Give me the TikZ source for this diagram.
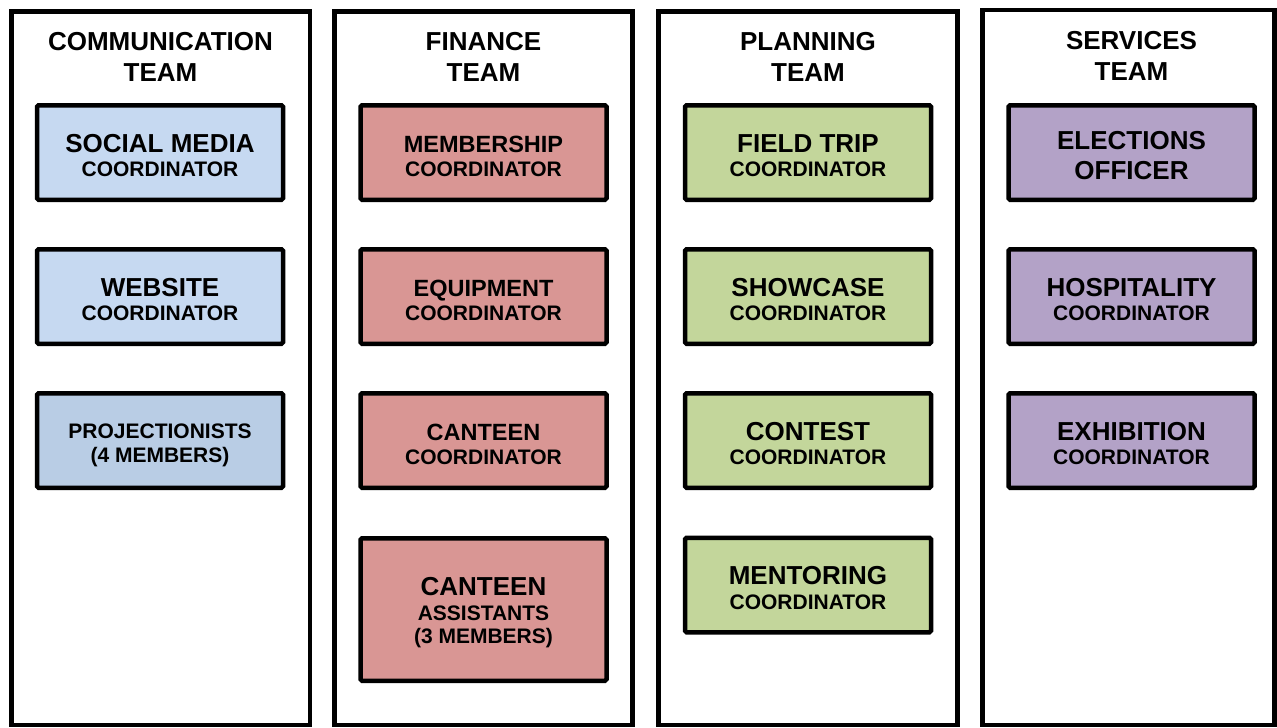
\documentclass[tikz,border=0pt]{standalone}
\usepackage{fontspec}
\setmainfont{Liberation Sans}
\definecolor{commfill}{HTML}{C6D9F1}
\definecolor{projfill}{HTML}{B9CDE5}
\definecolor{finfill}{HTML}{D99694}
\definecolor{planfill}{HTML}{C3D69B}
\definecolor{servfill}{HTML}{B3A2C7}
% line sizes inside the role boxes (the line spacing comes from the box font)
\newcommand{\bigln}[1]{{\fontsize{26}{24.5}\selectfont #1}}
\newcommand{\midln}[1]{{\fontsize{23.5}{24.5}\selectfont #1}}
\newcommand{\smallln}[1]{{\fontsize{21}{24.5}\selectfont #1}}
% invisible strut on the first line to sit the text block a little lower
\newcommand{\tstrut}{\rule{0pt}{24pt}}
\begin{document}
\begin{tikzpicture}[x=1pt,y=-1pt,
  teamframe/.style={draw=black,line width=4.5pt,fill=white},
  teamhead/.style={align=center,font=\bfseries\fontsize{26}{31}\selectfont,inner sep=0pt},
  rolebox/.style={draw=black,line width=4.5pt,rounded corners=1.5pt,
    minimum width=246pt,minimum height=94.5pt,align=center,
    font=\bfseries\fontsize{21}{24.5}\selectfont,inner sep=0pt},
  widebox/.style={rolebox,font=\bfseries\fontsize{21}{30}\selectfont},
  tallbox/.style={rolebox,minimum height=142.5pt}]
\useasboundingbox (0,0) rectangle (1277,728);

% team frames
\draw[teamframe] (11.5,11.5) rectangle (310,725);
\draw[teamframe] (334.5,11.5) rectangle (632.5,725);
\draw[teamframe] (658.5,11.5) rectangle (957.5,725);
\draw[teamframe] (982.5,10) rectangle (1274.5,725);

% team headings
\node[teamhead] (hcomm) at (160.5,57) {COMMUNICATION\\TEAM};
\node[teamhead] (hfin)  at (483.5,57) {FINANCE\\TEAM};
\node[teamhead] (hplan) at (808,57) {PLANNING\\TEAM};
\node[teamhead] (hserv) at (1131.5,56) {SERVICES\\TEAM};

% communication team
\node[rolebox,fill=commfill] (social) at (160,152.5) {\tstrut\bigln{SOCIAL MEDIA}\\\smallln{COORDINATOR}};
\node[rolebox,fill=commfill] (web) at (160,296.5) {\tstrut\bigln{WEBSITE}\\\smallln{COORDINATOR}};
\node[rolebox,fill=projfill] (proj) at (160,440.5) {\tstrut\smallln{PROJECTIONISTS}\\\smallln{(4 MEMBERS)}};

% finance team
\node[rolebox,fill=finfill] (member) at (483.5,152.5) {\tstrut\midln{MEMBERSHIP}\\\smallln{COORDINATOR}};
\node[rolebox,fill=finfill] (equip) at (483.5,296.5) {\tstrut\midln{EQUIPMENT}\\\smallln{COORDINATOR}};
\node[rolebox,fill=finfill] (canteen) at (483.5,440.5) {\tstrut\midln{CANTEEN}\\\smallln{COORDINATOR}};
\node[tallbox,fill=finfill] (assist) at (483.5,609.5) {\tstrut\bigln{CANTEEN}\\\smallln{ASSISTANTS}\\[-1.5pt]\smallln{(3 MEMBERS)}};

% planning team
\node[rolebox,fill=planfill] (trip) at (808,152.5) {\tstrut\bigln{FIELD TRIP}\\\smallln{COORDINATOR}};
\node[rolebox,fill=planfill] (show) at (808,296.5) {\tstrut\bigln{SHOWCASE}\\\smallln{COORDINATOR}};
\node[rolebox,fill=planfill] (contest) at (808,440.5) {\tstrut\bigln{CONTEST}\\\smallln{COORDINATOR}};
\node[rolebox,fill=planfill] (mentor) at (808,585) {\tstrut\bigln{MENTORING}\\\smallln{COORDINATOR}};

% services team
\node[widebox,fill=servfill] (elect) at (1131.5,152.5) {\tstrut\bigln{ELECTIONS}\\\bigln{OFFICER}};
\node[rolebox,fill=servfill] (hosp) at (1131.5,296.5) {\tstrut\bigln{HOSPITALITY}\\\smallln{COORDINATOR}};
\node[rolebox,fill=servfill] (exhib) at (1131.5,440.5) {\tstrut\bigln{EXHIBITION}\\\smallln{COORDINATOR}};
\end{tikzpicture}
\end{document}
